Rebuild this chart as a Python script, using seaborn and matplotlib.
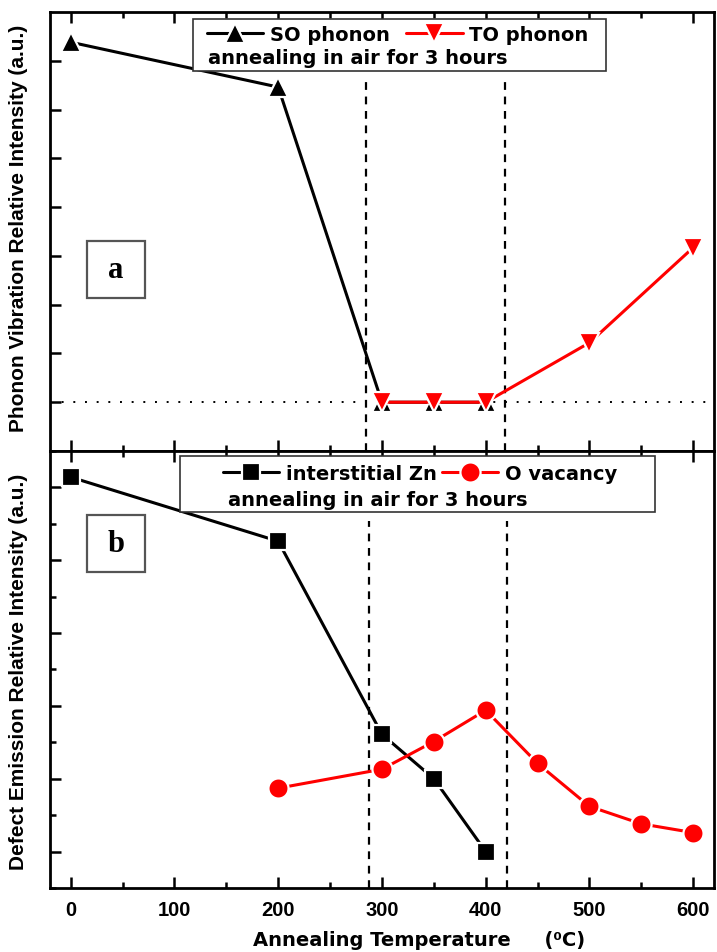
import matplotlib
matplotlib.use("Agg")
import matplotlib.pyplot as plt
from matplotlib.patches import Rectangle
from matplotlib.ticker import MultipleLocator
import seaborn as sns

# Panel (a): phonon vibration intensities
so_temps = [0, 200, 300, 350, 400]
so_intensity = [7.38, 6.46, 0.0, 0.0, 0.0]
to_temps = [300, 350, 400, 500, 600]
to_intensity = [0.0, 0.0, 0.0, 1.22, 3.17]

# Panel (b): defect emission intensities
zn_temps = [0, 200, 300, 350, 400]
zn_intensity = [5.14, 4.26, 1.61, 1.0, 0.0]
ov_temps = [200, 300, 350, 400, 450, 500, 550, 600]
ov_intensity = [0.87, 1.13, 1.51, 1.94, 1.21, 0.62, 0.38, 0.26]

# Transition region boundaries (°C)
bounds_a = [285, 419]
bounds_b = [288, 421]

x_ticks = [0, 100, 200, 300, 400, 500, 600]
x_ticklabels = ["0", "100", "200", "300", "400", "500", "600"]

legend_note = "annealing in air for 3 hours"

sns.set_theme(style="ticks")
plt.rcParams["font.family"] = ["DejaVu Sans"]
plt.rcParams["font.weight"] = "bold"
plt.rcParams["text.color"] = "black"
plt.rcParams["axes.labelcolor"] = "black"
plt.rcParams["xtick.color"] = "black"
plt.rcParams["ytick.color"] = "black"
plt.rcParams["axes.edgecolor"] = "black"

fig = plt.figure(figsize=(7.17, 9.53), dpi=100)
ax_a = fig.add_axes([0.0697, 0.5257, 0.926, 0.4607])
ax_b = fig.add_axes([0.0697, 0.0672, 0.926, 0.4586])

line_kw = dict(linewidth=2.2, mec="white", mew=1.6, zorder=3)

sns.lineplot(x=so_temps, y=so_intensity, ax=ax_a, color="black", marker="^",
             markersize=14, label="SO phonon", **line_kw)
sns.lineplot(x=to_temps, y=to_intensity, ax=ax_a, color="#ff0000", marker="v",
             markersize=14, label="TO phonon", **line_kw)

sns.lineplot(x=zn_temps, y=zn_intensity, ax=ax_b, color="black", marker="s",
             markersize=12.5, label="interstitial Zn", **line_kw)
sns.lineplot(x=ov_temps, y=ov_intensity, ax=ax_b, color="#ff0000", marker="o",
             markersize=14.5, label="O vacancy", **line_kw)

# reference lines
ax_a.axhline(0, color="black", lw=1.4, ls=(0, (1, 5)), zorder=1)
for xv in bounds_a:
    ax_a.axvline(xv, ymin=0, ymax=0.852, color="black", lw=1.6, ls=(0, (3.5, 3)), zorder=1)
for xv in bounds_b:
    ax_b.axvline(xv, ymin=0, ymax=0.84, color="black", lw=1.6, ls=(0, (3.5, 3)), zorder=1)

for ax in (ax_a, ax_b):
    ax.set_xlim(-20, 620)
    ax.set_xticks(x_ticks, labels=x_ticklabels, fontfamily="Liberation Sans",
                  fontweight="bold", fontsize=14.5)
    ax.xaxis.set_minor_locator(MultipleLocator(50))
    for sp in ax.spines.values():
        sp.set_linewidth(2.0)
        sp.set_visible(True)
        sp.set_color("black")
    ax.tick_params(which="both", direction="in", top=True, right=False, width=1.8,
                   color="black")
    ax.tick_params(which="major", length=8)
    ax.tick_params(which="minor", length=4)
    ax.set_xlabel("")
    ax.set_ylabel("")

ax_a.set_ylim(-1, 8)
ax_a.set_yticks(range(0, 8))
ax_a.tick_params(labelleft=False, labelbottom=False)

ax_b.set_ylim(-0.5, 5.5)
ax_b.yaxis.set_major_locator(MultipleLocator(1))
ax_b.yaxis.set_minor_locator(MultipleLocator(0.5))
ax_b.tick_params(labelleft=False)
ax_b.tick_params(axis="x", which="major", pad=9)

ylab_kw = dict(fontsize=15, fontweight="bold", fontfamily="Liberation Sans")
ax_a.set_ylabel("Phonon Vibration Relative Intensity (a.u.)", **ylab_kw)
ax_b.set_ylabel("Defect Emission Relative Intensity (a.u.)", **ylab_kw)
ax_a.yaxis.set_label_coords(-0.033, 0.51)
ax_b.yaxis.set_label_coords(-0.033, 0.497)

ax_b.set_xlabel("Annealing Temperature     (\u2070C)", fontsize=14, fontweight="bold")
ax_b.xaxis.label.set_horizontalalignment("left")
ax_b.xaxis.label.set_verticalalignment("center")
ax_b.xaxis.set_label_coords(0.306, -0.117)

# legends with an extra note line inside a shared frame
def framed_legend(ax, box, anchor, note_xy, colspace):
    ax.add_patch(Rectangle((box[0], box[1]), box[2] - box[0], box[3] - box[1],
                           transform=ax.transAxes, fill=True, facecolor="white",
                           edgecolor="#333333", lw=1.2, zorder=4))
    leg = ax.legend(loc="upper left", bbox_to_anchor=anchor, ncol=2, frameon=False,
                    handlelength=2.9, handletextpad=0.35, columnspacing=colspace,
                    borderpad=0, borderaxespad=0,
                    prop=dict(size=14, weight="bold"))
    leg.set_zorder(5)
    ax.text(note_xy[0], note_xy[1], legend_note, transform=ax.transAxes,
            fontsize=14, fontweight="bold", va="center", ha="left", zorder=6)

framed_legend(ax_a, (0.2154, 0.8656, 0.837, 0.984), (0.236, 0.971), (0.238, 0.897), 0.85)
framed_legend(ax_b, (0.196, 0.860, 0.911, 0.9886), (0.26, 0.97), (0.268, 0.888), 0.25)

# panel tags
for ax, (x0, y0, x1, y1), tag in ((ax_a, (0.0557, 0.3485, 0.143, 0.478), "a"),
                                   (ax_b, (0.0557, 0.723, 0.143, 0.854), "b")):
    ax.add_patch(Rectangle((x0, y0), x1 - x0, y1 - y0, transform=ax.transAxes,
                           fill=False, edgecolor="#555555", lw=1.6, zorder=4))
    ax.text((x0 + x1) / 2, (y0 + y1) / 2, tag, transform=ax.transAxes,
            family="Liberation Serif", fontweight="bold", fontsize=22,
            ha="center", va="center", zorder=5)

fig.savefig("out.png", dpi=100)
